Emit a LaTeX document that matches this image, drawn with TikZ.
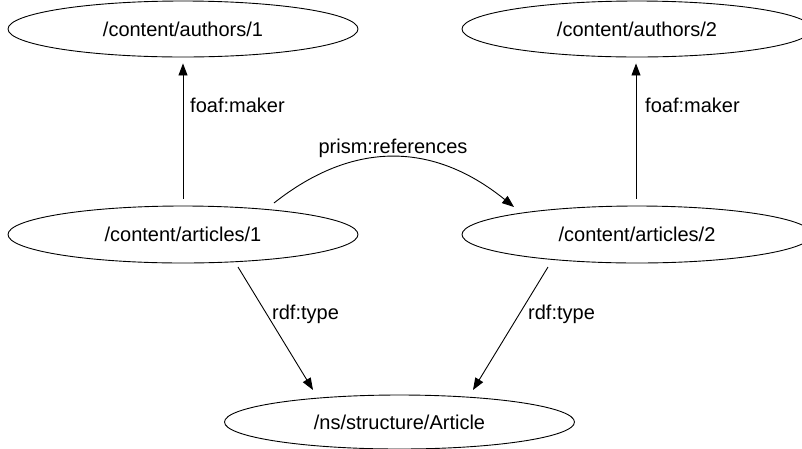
\documentclass[tikz,border=0pt]{standalone}
\usepackage{fontspec}
\setmainfont{Liberation Sans}
\usetikzlibrary{shapes.geometric,arrows.meta,calc}
\begin{document}
\begin{tikzpicture}[x=1pt,y=-1pt,
  res/.style={draw,ellipse,line width=0.9pt,inner sep=0pt,minimum width=350pt,minimum height=56pt,font=\fontsize{20}{24}\selectfont},
  arr/.style={line width=0.9pt,-{Triangle[length=12pt,width=9pt]}},
  lbl/.style={inner sep=0pt,font=\fontsize{20}{24}\selectfont}]
\useasboundingbox (0,0) rectangle (802,448);
\node[res] (a1) at (183,29) {/content/authors/1};
\node[res] (a2) at (637,29) {/content/authors/2};
\node[res,minimum height=57pt] (art1) at (183,234.5) {/content/articles/1};
\node[res,minimum height=57pt] (art2) at (637,234.5) {/content/articles/2};
\node[res,minimum height=54pt] (art) at (399.5,422) {/ns/structure/Article};
\draw[arr,shorten <=7pt,shorten >=6pt] (art1.north) -- (a1.south);
\draw[arr,shorten <=7pt,shorten >=6pt] ($(art2.north)+(-1,0)$) -- ($(a2.south)+(-1,0)$);
\draw[arr] ($(art1)+(91,-31.5)$) .. controls ($(art1)+(170,-94)$) and ($(art2)+(-204,-93)$) .. ($(art2)+(-123,-27.5)$);
\draw[arr] ($(art1)+(55,32.5)$) -- ($(art)+(-86.5,-32)$);
\draw[arr] ($(art2)+(-89,32.5)$) -- ($(art)+(73.5,-32)$);
\node[lbl,anchor=base west] (l1) at (190,112) {foaf:maker};
\node[lbl,anchor=base west] (l2) at (645,112) {foaf:maker};
\node[lbl,anchor=base] (l3) at (393,153) {prism:references};
\node[lbl,anchor=base west] (l4) at (272,319) {rdf:type};
\node[lbl,anchor=base west] (l5) at (528,319) {rdf:type};
\end{tikzpicture}
\end{document}
